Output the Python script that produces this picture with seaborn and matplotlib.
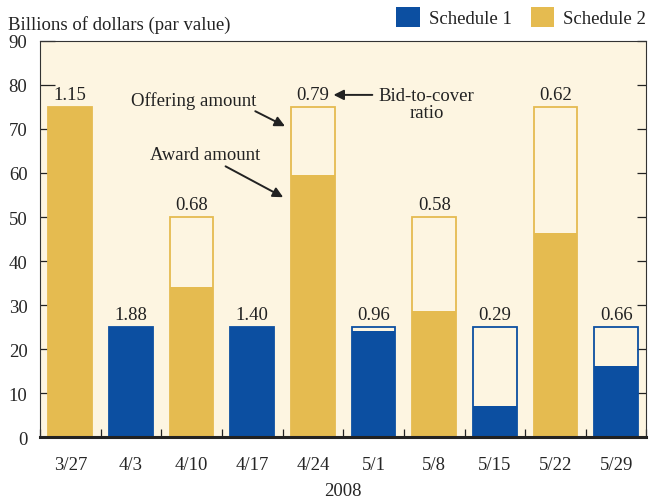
import numpy as np
import pandas as pd
import seaborn as sns
import matplotlib.pyplot as plt
from matplotlib.patches import Patch

# Auction data, 2008
dates = ['3/27', '4/3', '4/10', '4/17', '4/24', '5/1', '5/8', '5/15', '5/22', '5/29']
schedule = ['Schedule 2', 'Schedule 1', 'Schedule 2', 'Schedule 1', 'Schedule 2',
            'Schedule 1', 'Schedule 2', 'Schedule 1', 'Schedule 2', 'Schedule 1']
offering = [75, 25, 50, 25, 75, 25, 50, 25, 75, 25]
award = [75, 25, 34.1, 25, 59.6, 24.2, 28.7, 7.2, 46.4, 16.2]
ratio = ['1.15', '1.88', '0.68', '1.40', '0.79', '0.96', '0.58', '0.29', '0.62', '0.66']

df = pd.DataFrame({'Date': dates, 'Schedule': schedule,
                   'Offering': offering, 'Award': award})

blue = '#0c4fa1'
gold = '#e5bb50'
bg = '#fdf5e1'
palette = {'Schedule 1': blue, 'Schedule 2': gold}
hue_order = ['Schedule 1', 'Schedule 2']
fs = 13.5

sns.set_style('ticks')
plt.rcParams['font.family'] = ['Liberation Serif', 'DejaVu Serif']
plt.rcParams['text.color'] = '#222222'

fig = plt.figure(figsize=(6.49, 5.02), dpi=100)
ax = fig.add_axes([0.0616, 0.1265, 0.9345, 0.7905])
ax.set_facecolor(bg)

# Offering amount (outline) and award amount (filled)
sns.barplot(data=df, x='Date', y='Offering', hue='Schedule', order=dates,
            hue_order=hue_order, palette=palette, dodge=False, width=0.72,
            fill=False, linewidth=1.3, saturation=1, legend=False, ax=ax)
sns.barplot(data=df, x='Date', y='Award', hue='Schedule', order=dates,
            hue_order=hue_order, palette=palette, dodge=False, width=0.72,
            linewidth=0, saturation=1, legend=False, ax=ax)

# Bid-to-cover ratios
for i, (off, r) in enumerate(zip(offering, ratio)):
    ax.text(i, off + 2.8, r, ha='center', va='center', fontsize=fs)

ax.set_xlim(-0.5, 9.5)
ax.set_ylim(0, 90)
ax.set_yticks(range(0, 91, 10))
ax.set_xlabel('2008', fontsize=fs, labelpad=7)
ax.set_ylabel('')

ax.tick_params(axis='x', which='major', length=0, pad=13, labelsize=fs)
ax.set_xticks(np.arange(-0.5, 9.6, 1), minor=True)
ax.tick_params(axis='x', which='minor', direction='in', length=6, width=0.9,
               color='#222222')
ax.tick_params(axis='y', direction='in', left=True, right=True, length=10.5,
               width=0.9, pad=9, labelsize=fs, color='#222222')
for t in ax.yaxis.get_major_ticks():
    t.tick2line.set_markersize(6.5)

for side in ['left', 'top', 'right']:
    ax.spines[side].set_visible(True)
    ax.spines[side].set_linewidth(0.8)
    ax.spines[side].set_color('#333333')
ax.spines['bottom'].set_linewidth(2.2)
ax.spines['bottom'].set_color('#222222')

# Annotations
arrow = dict(arrowstyle='-|>', color='#222222', lw=1.4, mutation_scale=15,
             shrinkA=0, shrinkB=0)
ax.text(2.03, 76.5, 'Offering amount', ha='center', va='center', fontsize=fs)
ax.annotate('', xy=(3.54, 70.6), xytext=(3.05, 74.0), arrowprops=arrow)
ax.text(2.23, 64.1, 'Award amount', ha='center', va='center', fontsize=fs)
ax.annotate('', xy=(3.51, 54.5), xytext=(2.56, 61.5), arrowprops=arrow)
ax.text(5.87, 75.6, 'Bid-to-cover\nratio', ha='center', va='center',
        fontsize=fs, linespacing=0.95)
ax.annotate('', xy=(4.34, 77.7), xytext=(4.98, 77.7), arrowprops=arrow)

# Legend
handles = [Patch(facecolor=palette[h], edgecolor='none') for h in hue_order]
ax.legend(handles, hue_order, ncol=2, loc='lower right',
          bbox_to_anchor=(1.012, 1.015), frameon=False, fontsize=fs,
          handlelength=1.25, handleheight=1.25, columnspacing=1.0,
          handletextpad=0.5, borderaxespad=0.2, borderpad=0.2)

fig.text(8 / 649, 1 - 25 / 502, 'Billions of dollars (par value)',
         ha='left', va='center', fontsize=fs)

fig.savefig('out.png', dpi=100, facecolor='white')
